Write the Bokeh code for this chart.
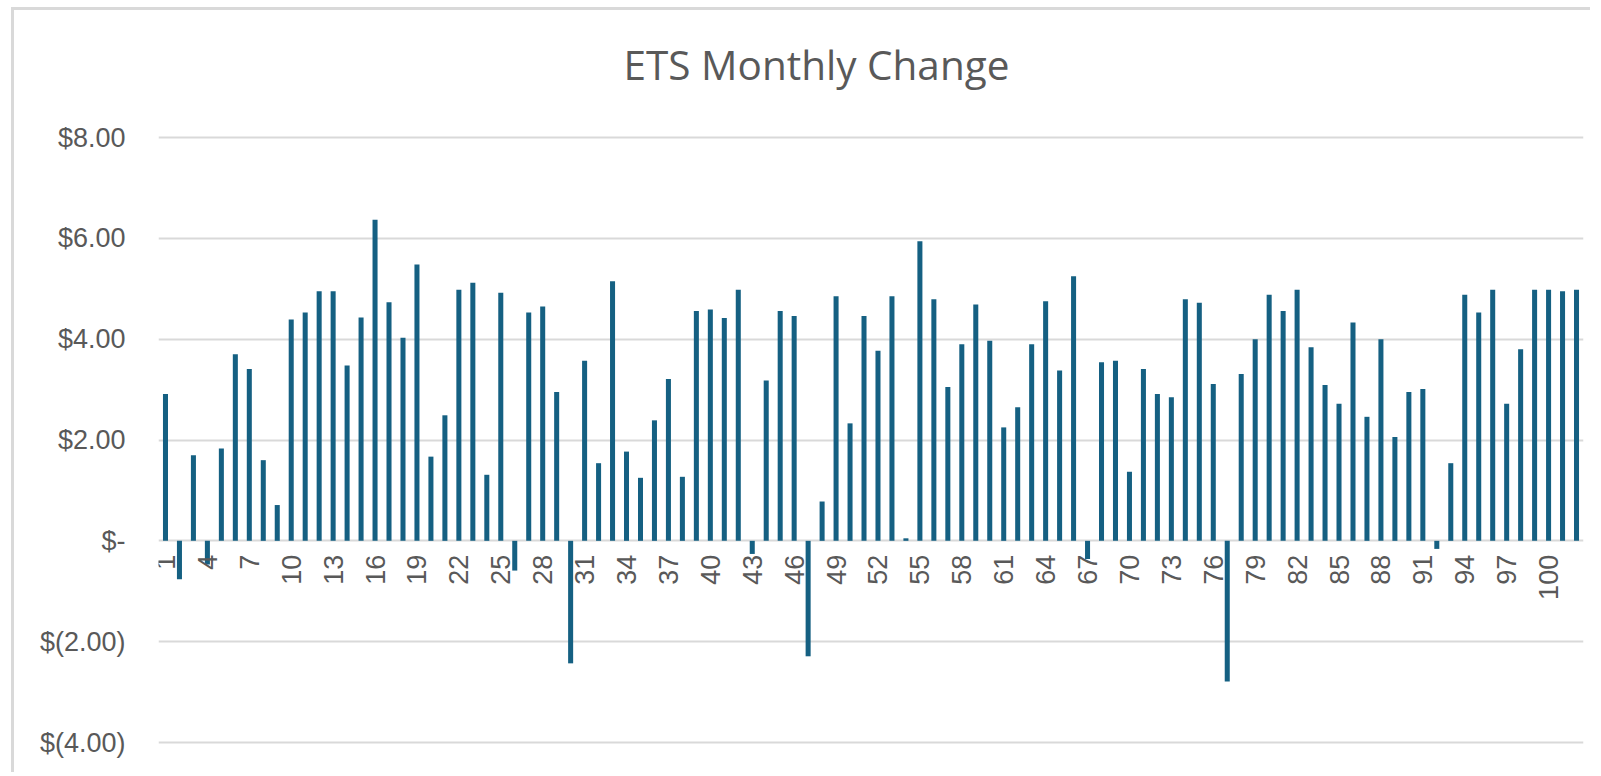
from bokeh.plotting import figure
from bokeh.models import Range1d, FixedTicker, ColumnDataSource
from bokeh.core.properties import value
from bokeh.embed import file_html
from bokeh.resources import INLINE
import math

# ---- data ----
months = list(range(1, 103))
change = [
    2.91, -0.76, 1.70, -0.47, 1.83, 3.70, 3.41, 1.60, 0.71, 4.39,
    4.53, 4.95, 4.95, 3.48, 4.43, 6.37, 4.73, 4.03, 5.48, 1.67,
    2.49, 4.98, 5.12, 1.31, 4.92, -0.59, 4.53, 4.65, 2.95, -2.43,
    3.57, 1.54, 5.15, 1.77, 1.25, 2.39, 3.21, 1.27, 4.56, 4.59,
    4.42, 4.98, -0.26, 3.18, 4.56, 4.46, -2.29, 0.78, 4.85, 2.33,
    4.46, 3.77, 4.85, 0.05, 5.94, 4.79, 3.05, 3.90, 4.69, 3.97,
    2.25, 2.65, 3.90, 4.75, 3.38, 5.25, -0.36, 3.54, 3.57, 1.37,
    3.41, 2.91, 2.85, 4.79, 4.72, 3.11, -2.79, 3.31, 4.00, 4.88,
    4.56, 4.98, 3.84, 3.09, 2.72, 4.33, 2.46, 4.00, 2.06, 2.95,
    3.01, -0.16, 1.54, 4.88, 4.53, 4.98, 2.72, 3.80, 4.98, 4.98,
    4.95, 4.98,
]
y_ticks = [-4, -2, 0, 2, 4, 6, 8]
y_tick_labels = ["$(4.00)", "$(2.00)", "$-", "$2.00", "$4.00", "$6.00", "$8.00"]
x_label_months = [m for m in months if (m - 1) % 3 == 0]
title_text = "ETS Monthly Change"

BAR = "#156082"
GRID = "#d9d9d9"
TXT = "#595959"

# layout constants (pixels)
W, H = 1579, 765
LEFT, RIGHT = 144, 10
FRAME_W = W - LEFT - RIGHT
PX_PER_CAT = FRAME_W / len(months)
Y_LO, Y_HI = -4, 8
PLOT_TOP, PLOT_H = 127, 605          # $8 gridline and span down to $(4)
PX_PER_UNIT = PLOT_H / (Y_HI - Y_LO)
y_top = Y_HI + PLOT_TOP / PX_PER_UNIT
y_bot = Y_LO - (H - PLOT_TOP - PLOT_H) / PX_PER_UNIT

p = figure(
    width=W, height=H,
    output_backend="svg", toolbar_location=None,
    x_axis_location=None,
    x_range=Range1d(0, len(months)), y_range=Range1d(y_bot, y_top),
    min_border_left=LEFT, min_border_right=RIGHT,
    min_border_top=0, min_border_bottom=0,
    styles={"margin-left": "11px", "margin-top": "7px",
            "border-left": "3px solid #d9d9d9",
            "border-top": "3px solid #d9d9d9"},
)
p.outline_line_color = None
p.background_fill_color = "white"
p.border_fill_color = "white"

src = ColumnDataSource(dict(x=[m - 0.5 for m in months], top=change))
p.vbar(x="x", top="top", bottom=0, width=0.36, source=src,
       fill_color=BAR, line_color=None)

# y axis
p.xgrid.visible = False
p.yaxis.ticker = FixedTicker(ticks=y_ticks)
p.yaxis.major_label_overrides = {t: l for t, l in zip(y_ticks, y_tick_labels)}
p.yaxis.axis_line_color = None
p.yaxis.major_tick_line_color = None
p.yaxis.minor_tick_line_color = None
p.yaxis.major_tick_out = 0
p.yaxis.major_tick_in = 0
p.yaxis.major_label_standoff = 33
p.yaxis.major_label_text_font = "Liberation Sans"
p.yaxis.major_label_text_font_size = "27px"
p.yaxis.major_label_text_color = TXT
p.ygrid.ticker = FixedTicker(ticks=y_ticks)
p.ygrid.grid_line_color = GRID
p.ygrid.grid_line_width = 2
p.ygrid.level = "underlay"

# category labels, rotated, hanging below the zero line
lab = ColumnDataSource(dict(x=[m - 0.5 for m in x_label_months],
                            y=[0] * len(x_label_months),
                            t=[str(m) for m in x_label_months]))
p.text(x="x", y="y", text="t", source=lab, angle=math.pi / 2,
       text_align="right", text_baseline="middle", y_offset=14,
       text_font=value("Liberation Sans"), text_font_size="27px",
       text_color=TXT)

# chart title, placed above the $8 gridline
title_x = (816 - 14 - LEFT) / PX_PER_CAT
title_y = y_top - 54 / PX_PER_UNIT
p.text(x=[title_x], y=[title_y], text=[title_text],
       text_align="center", text_baseline="alphabetic",
       text_font=value("Open Sans"), text_font_size="40.5px",
       text_color=TXT)

open("out.html", "w").write(file_html(p, INLINE))
